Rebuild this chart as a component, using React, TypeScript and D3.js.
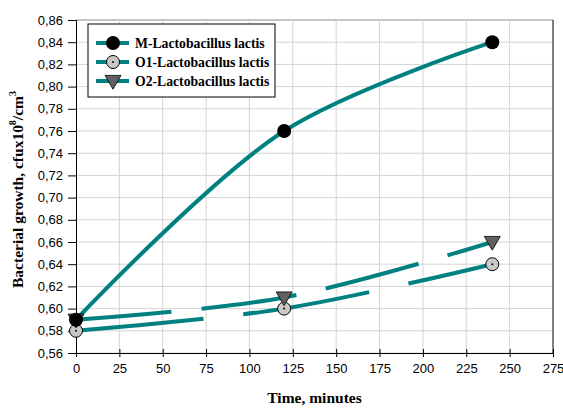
import React, { useEffect, useRef } from 'react';
import * as d3 from 'd3';

const times = [0, 120, 240];
const mValues = [0.59, 0.76, 0.84];
const o1Values = [0.58, 0.6, 0.64];
const o2Values = [0.59, 0.61, 0.66];
const xTicks = [0, 25, 50, 75, 100, 125, 150, 175, 200, 225, 250, 275];
const yTicks = [0.56, 0.58, 0.6, 0.62, 0.64, 0.66, 0.68, 0.7, 0.72, 0.74, 0.76, 0.78, 0.8, 0.82, 0.84, 0.86];
const seriesNames = ['M-Lactobacillus lactis', 'O1-Lactobacillus lactis', 'O2-Lactobacillus lactis'];

const App = () => {
  const ref = useRef<SVGSVGElement>(null);

  useEffect(() => {
    const svg = d3.select(ref.current);
    svg.selectAll('*').remove();

    const margin = { top: 20, right: 10, bottom: 56, left: 76 };
    const width = 563 - margin.left - margin.right;
    const height = 409 - margin.top - margin.bottom;
    const teal = '#008080';
    const serif = 'Times New Roman, Liberation Serif, serif';

    const x = d3.scaleLinear().domain([0, 275]).range([0, width]);
    const y = d3.scaleLinear().domain([0.56, 0.86]).range([height, 0]);

    const g = svg.append('g').attr('transform', `translate(${margin.left},${margin.top})`);

    // grid
    g.selectAll('.hgrid')
      .data(yTicks)
      .enter()
      .append('line')
      .attr('x1', 0)
      .attr('x2', width)
      .attr('y1', d => y(d))
      .attr('y2', d => y(d))
      .attr('stroke', d => (d === 0.86 ? '#8c8c8c' : '#d4d4d4'))
      .attr('stroke-width', 1);
    g.selectAll('.vgrid')
      .data(xTicks.slice(1, -1))
      .enter()
      .append('line')
      .attr('x1', d => x(d))
      .attr('x2', d => x(d))
      .attr('y1', 0)
      .attr('y2', height)
      .attr('stroke', '#d4d4d4')
      .attr('stroke-width', 1);
    g.append('line')
      .attr('x1', width).attr('x2', width).attr('y1', 0).attr('y2', height)
      .attr('stroke', '#000');

    // axes
    const yAxis = g.append('g').call(
      d3.axisLeft(y).tickValues(yTicks).tickSize(8).tickFormat(d => d3.format('.2f')(d as number).replace('.', ','))
    );
    const xAxis = g.append('g').attr('transform', `translate(0,${height})`).call(
      d3.axisBottom(x).tickValues(xTicks).tickSize(4)
    );
    [yAxis, xAxis].forEach(a => {
      a.select('.domain').attr('stroke', '#000');
      a.selectAll('text').attr('font-family', 'Arial, Liberation Sans, sans-serif').attr('font-size', 13).attr('fill', '#000');
    });
    yAxis.selectAll('text').attr('x', -13);
    xAxis.selectAll('.tick line').attr('y1', -4);
    xAxis.selectAll('text').attr('y', 11);

    const line = d3
      .line<number>()
      .x((d, i) => x(times[i]))
      .y(d => y(d))
      .curve(d3.curveCatmullRom);

    g.append('path').datum(o1Values).attr('fill', 'none').attr('stroke', teal).attr('stroke-width', 4)
      .attr('stroke-dasharray', '128,40').attr('d', line);
    g.append('path').datum(o2Values).attr('fill', 'none').attr('stroke', teal).attr('stroke-width', 4)
      .attr('stroke-dasharray', '96,30').attr('d', line);
    g.append('path').datum(mValues).attr('fill', 'none').attr('stroke', teal).attr('stroke-width', 4).attr('d', line);

    const tri = d3.symbol().type(d3.symbolTriangle).size(110);

    const drawM = (sel, cx, cy) => {
      sel.append('circle').attr('cx', cx).attr('cy', cy).attr('r', 7).attr('fill', '#000');
    };
    const drawO1 = (sel, cx, cy) => {
      sel.append('circle').attr('cx', cx).attr('cy', cy).attr('r', 6.5).attr('fill', '#c8c8c8').attr('stroke', '#000').attr('stroke-width', 1);
      sel.append('circle').attr('cx', cx).attr('cy', cy).attr('r', 1).attr('fill', '#000');
    };
    const drawO2 = (sel, cx, cy) => {
      sel.append('path').attr('d', tri).attr('transform', `translate(${cx},${cy - 1}) rotate(180)`)
        .attr('fill', '#606060').attr('stroke', '#000').attr('stroke-width', 0.8);
    };

    o1Values.forEach((v, i) => drawO1(g, x(times[i]), y(v)));
    o2Values.forEach((v, i) => drawO2(g, x(times[i]), y(v)));
    mValues.forEach((v, i) => drawM(g, x(times[i]), y(v)));

    // legend
    const lg = svg.append('g').attr('transform', 'translate(88,24)');
    lg.append('rect').attr('width', 187).attr('height', 73).attr('fill', '#fff').attr('stroke', '#000').attr('stroke-width', 1);
    const drawers = [drawM, drawO1, drawO2];
    seriesNames.forEach((name, i) => {
      const ly = 19 + i * 19;
      lg.append('line').attr('x1', 8).attr('x2', 41).attr('y1', ly).attr('y2', ly).attr('stroke', teal).attr('stroke-width', 4);
      drawers[i](lg, 25, ly);
      lg.append('text').attr('x', 47).attr('y', ly + 5).text(name)
        .attr('font-family', serif).attr('font-weight', 'bold').attr('font-size', 13.7);
    });

    // titles
    svg.append('text').attr('x', margin.left + width / 2).attr('y', 403).attr('text-anchor', 'middle')
      .attr('font-family', serif).attr('font-weight', 'bold').attr('font-size', 15.5)
      .text('Time, minutes');

    const yt = svg.append('text').attr('transform', `translate(23,${margin.top + height / 2 + 3}) rotate(-90)`)
      .attr('text-anchor', 'middle')
      .attr('font-family', serif).attr('font-weight', 'bold').attr('font-size', 15.5);
    yt.append('tspan').text('Bacterial growth, cfux10');
    yt.append('tspan').attr('dy', -7).attr('font-size', 10).text('8');
    yt.append('tspan').attr('dy', 7).text('/cm');
    yt.append('tspan').attr('dy', -7).attr('font-size', 10).text('3');
  }, []);

  return <svg ref={ref} width={563} height={409} style={{ display: 'block', position: 'absolute', left: 0, top: 0 }}></svg>;
};

export default App;
